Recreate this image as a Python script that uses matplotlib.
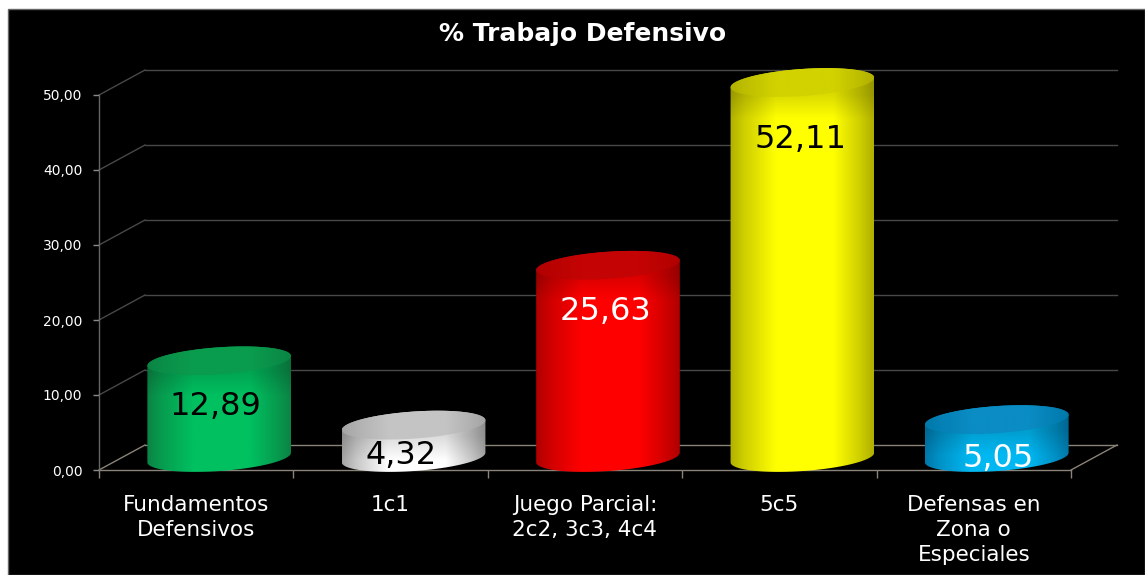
import numpy as np
import matplotlib
matplotlib.use('Agg')
import matplotlib.pyplot as plt
from matplotlib.patches import Polygon, Rectangle

# Chart data
categories = ['Fundamentos\nDefensivos', '1c1', 'Juego Parcial:\n2c2, 3c3, 4c4', '5c5',
              'Defensas en\nZona o\nEspeciales']
values = [12.89, 4.32, 25.63, 52.11, 5.05]
value_labels = ['12,89', '4,32', '25,63', '52,11', '5,05']
y_ticks = [0, 10, 20, 30, 40, 50]
y_tick_labels = ['0,00', '10,00', '20,00', '30,00', '40,00', '50,00']
title = '% Trabajo Defensivo'

# Styles: (edge, highlight, top face) and label colours
bar_colors = [('#0b8444', '#00c060', '#0a9c4e'),
              ('#a4a4a4', '#ffffff', '#c4c4c4'),
              ('#b00000', '#ff0000', '#c40404'),
              ('#b0b000', '#ffff00', '#d2d200'),
              ('#0078aa', '#00b8f2', '#0a8cc4')]
label_colors = ['black', 'black', 'white', 'black', 'white']
label_drop = [46, 30, 46, 57, 39]  # px below the top of the bar
label_shift = [-4, -12, -3, -2, 1]  # px sideways from the bar centre

W, H = 1145, 575
LEFT, RIGHT, BOTTOM, TOP = 99, 1071, 470, 95
DEPTH_X, DEPTH_Y = 46, 25
BAR_A, BAR_B, TILT = 72, 13.5, np.radians(4)

plt.rcParams['font.family'] = ['DejaVu Sans']

fig = plt.figure(figsize=(W / 100, H / 100), dpi=100, facecolor='white')
fig.patches.append(Rectangle((8 / W, 0), 1 - 8 / W, 1 - 9 / H, transform=fig.transFigure,
                             facecolor='black', edgecolor='#666666', linewidth=1, zorder=-1))

ax = fig.add_axes([LEFT / W, (H - BOTTOM) / H, (RIGHT - LEFT) / W, (BOTTOM - TOP) / H])
ax.set_facecolor('none')
ax.set_xlim(-0.5, 4.5)
ax.set_ylim(0, 50)

px_x = (RIGHT - LEFT) / 5
px_y = (BOTTOM - TOP) / 50
dx = DEPTH_X / px_x
dy = DEPTH_Y / px_y

# Walls of the 3D box (no vertical line at the back)
for t in y_ticks:
    grid_col = '#8a8378' if t == 0 else '#484848'
    ax.plot([-0.5, -0.5 + dx], [t, t + dy], color=grid_col, lw=1, clip_on=False, zorder=1)
    ax.plot([-0.5 + dx, 4.5 + dx], [t + dy, t + dy], color=grid_col, lw=1, clip_on=False, zorder=1)
ax.plot([4.5, 4.5 + dx], [0, dy], color='#8a8378', lw=1, clip_on=False, zorder=1)


def ellipse(cx, cy, t):
    # tilted ellipse, worked out in pixels then put back in data units
    ex = BAR_A * np.cos(t) * np.cos(TILT) - BAR_B * np.sin(t) * np.sin(TILT)
    ey = BAR_A * np.cos(t) * np.sin(TILT) + BAR_B * np.sin(t) * np.cos(TILT)
    return np.column_stack([cx + ex / px_x, cy + ey / px_y])


def shade(c_edge, c_mid, n=200):
    # horizontal cylinder shading
    c0 = np.array(matplotlib.colors.to_rgb(c_edge))
    c1 = np.array(matplotlib.colors.to_rgb(c_mid))
    pos = np.linspace(0, 1, n)
    f = np.interp(pos, [0, 0.1, 0.32, 0.72, 0.9, 1], [0, 0.4, 1, 1, 0.4, 0])
    return c0[None, :] * (1 - f[:, None]) + c1[None, :] * f[:, None]


ymax = ax.get_ylim()[1]
for i, v in enumerate(values):
    c_edge, c_mid, c_top = bar_colors[i]
    h = min(v, ymax)  # tallest bar is cut at the axis maximum
    cx = i + dx / 2
    base = dy / 2
    top = base + h
    half = BAR_A / px_x
    tall = BAR_B * 2 / px_y

    # body, a little darker just under the top face
    row = shade(c_edge, c_mid)
    y_rows = np.linspace(base - tall, top + tall, 240)
    fade = np.interp((top - y_rows) * px_y, [-30, 12, 36], [0.82, 0.86, 1])
    body_img = row[None, :, :] * fade[:, None, None]
    im = ax.imshow(body_img, origin='lower', aspect='auto', zorder=3,
                   extent=[cx - half, cx + half, base - tall, top + tall], interpolation='bilinear')
    outline = np.vstack([ellipse(cx, base, np.linspace(np.pi, 2 * np.pi, 80)),
                         ellipse(cx, top, np.linspace(0, np.pi, 80))])
    im.set_clip_path(Polygon(outline, closed=True, transform=ax.transData))
    im.set_clip_box(fig.bbox)

    # top face
    top_img = shade(c_edge, c_top)[None, :, :]
    im2 = ax.imshow(top_img, origin='lower', aspect='auto', zorder=4,
                    extent=[cx - half, cx + half, top - tall, top + tall], interpolation='bilinear')
    im2.set_clip_path(Polygon(ellipse(cx, top, np.linspace(0, 2 * np.pi, 120)),
                              closed=True, transform=ax.transData))
    im2.set_clip_box(fig.bbox)

    ax.text(cx + label_shift[i] / px_x, top - label_drop[i] / px_y, value_labels[i],
            color=label_colors[i], fontsize=23, ha='center', va='center', zorder=5, clip_on=False)

ax.set_xlim(-0.5, 4.5)
ax.set_ylim(0, 50)

# Axes
for side in ['top', 'right']:
    ax.spines[side].set_visible(False)
ax.spines['left'].set_color('#666666')
ax.spines['bottom'].set_color('#8a8378')
for side in ['left', 'bottom']:
    ax.spines[side].set_linewidth(1)
    ax.spines[side].set_zorder(2)

ax.set_yticks(y_ticks)
ax.set_yticklabels(y_tick_labels, color='white', fontsize=10)
ax.tick_params(axis='y', colors='#8a8a8a', labelcolor='white', length=4, width=1, pad=8)
ax.set_xticks(range(len(categories)))
ax.set_xticklabels(categories, color='white', fontsize=15.5, linespacing=1.3)
ax.set_xticks(np.arange(-0.5, 5), minor=True)
ax.tick_params(axis='x', which='major', length=0, pad=18, labelcolor='white')
ax.tick_params(axis='x', which='minor', length=6, width=1, color='#8a8378')

fig.text(583 / W, 1 - 34 / H, title, color='white', fontsize=18, fontweight='bold',
         ha='center', va='center')

fig.savefig('out.png', dpi=100, facecolor=fig.get_facecolor())
